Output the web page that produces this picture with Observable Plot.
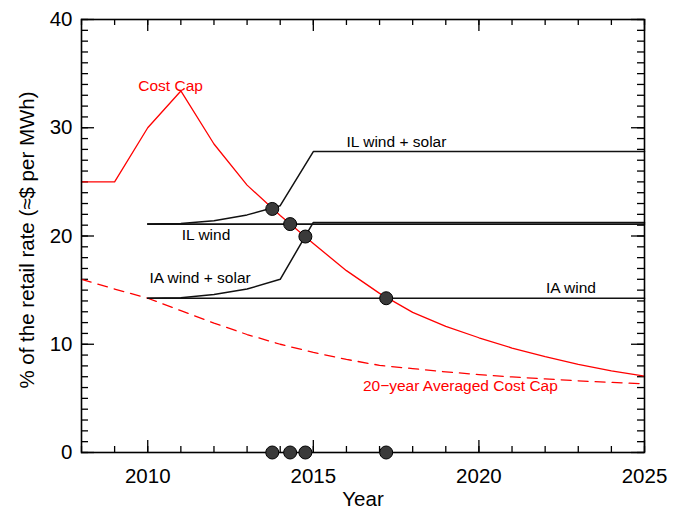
<!DOCTYPE html>
<html>
<head>
<meta charset="utf-8">
<script src="https://cdn.jsdelivr.net/npm/d3@7"></script>
<script src="https://cdn.jsdelivr.net/npm/@observablehq/plot@0.6"></script>
<style>
  html, body { margin: 0; padding: 0; background: #fff; }
  #chart svg { display: block; }
</style>
</head>
<body>
<div id="chart"></div>
<script>
// Cost cap as a share of the retail rate, with the IL / IA project costs
const years = [2008, 2009, 2010, 2011, 2012, 2013, 2014, 2015, 2016, 2017,
               2018, 2019, 2020, 2021, 2022, 2023, 2024, 2025];
const costCap = [25.0, 25.0, 30.0, 33.4, 28.5, 24.7, 21.9, 19.3, 16.8, 14.7,
                 12.95, 11.65, 10.6, 9.65, 8.85, 8.15, 7.55, 7.05];
const avgCostCap = [16.0, 15.1, 14.25, 13.1, 11.95, 10.9, 10.0, 9.25, 8.6, 8.05,
                    7.75, 7.45, 7.2, 6.98, 6.8, 6.62, 6.48, 6.35];

const ilWindSolarYears = [2010, 2011, 2012, 2013, 2014, 2015, 2025];
const ilWindSolar = [21.1, 21.15, 21.4, 21.95, 22.8, 27.8, 27.8];
const ilWindYears = [2010, 2025];
const ilWind = [21.1, 21.1];
const iaWindSolarYears = [2010, 2011, 2012, 2013, 2014, 2015, 2025];
const iaWindSolar = [14.25, 14.3, 14.6, 15.1, 16.0, 21.25, 21.25];
const iaWindYears = [2010, 2025];
const iaWind = [14.25, 14.25];

// Years where each project curve meets the cost cap
const crossYears = [2013.76, 2014.3, 2014.76, 2017.2];
const crossValues = [22.5, 21.1, 19.95, 14.25];

const xTickLabels = [2010, 2015, 2020, 2025];
const yTickLabels = [0, 10, 20, 30, 40];

const toPoints = (xs, ys) => xs.map((x, i) => ({x, y: ys[i]}));

const W = 680, H = 513;
const mL = 81, mR = 36, mT = 19, mB = 61;
const innerW = W - mL - mR, innerH = H - mT - mB;

const xMinor = d3.range(2008, 2026);
const yMinor = d3.range(0, 41);
const xMajor = xMinor.filter(d => d % 5 === 0);
const yMajor = yMinor.filter(d => d % 10 === 0);

const font = "'Liberation Sans', Arial, Helvetica, sans-serif";
const labelSize = 15.5;

const chart = Plot.plot({
  width: W,
  height: H,
  marginLeft: mL,
  marginRight: mR,
  marginTop: mT,
  marginBottom: mB,
  x: {domain: [2008, 2025]},
  y: {domain: [0, 40]},
  style: {fontFamily: font, fontSize: "20.5px", color: "#000", background: "#fff"},
  marks: [
    // inward ticks on all four sides
    Plot.tickX(xMinor, {x: d => d, insetTop: innerH - 6, stroke: "#000", strokeWidth: 1.3}),
    Plot.tickX(xMajor, {x: d => d, insetTop: innerH - 12, stroke: "#000", strokeWidth: 1.3}),
    Plot.tickX(xMinor, {x: d => d, insetBottom: innerH - 6, stroke: "#000", strokeWidth: 1.3}),
    Plot.tickX(xMajor, {x: d => d, insetBottom: innerH - 12, stroke: "#000", strokeWidth: 1.3}),
    Plot.tickY(yMinor, {y: d => d, insetRight: innerW - 7, stroke: "#000", strokeWidth: 1.3}),
    Plot.tickY(yMajor, {y: d => d, insetRight: innerW - 13, stroke: "#000", strokeWidth: 1.3}),
    Plot.tickY(yMinor, {y: d => d, insetLeft: innerW - 7, stroke: "#000", strokeWidth: 1.3}),
    Plot.tickY(yMajor, {y: d => d, insetLeft: innerW - 13, stroke: "#000", strokeWidth: 1.3}),

    Plot.axisX({ticks: xTickLabels, tickSize: 0, tickPadding: 16, tickFormat: d => String(d), label: null, fontSize: 20.5}),
    Plot.axisY({ticks: yTickLabels, tickSize: 0, tickPadding: 9, tickFormat: d => String(d), label: null, fontSize: 20.5}),

    // cost caps
    Plot.line(toPoints(years, avgCostCap), {x: "x", y: "y", stroke: "#ff0000", strokeWidth: 1.3, strokeDasharray: "10,7"}),
    Plot.line(toPoints(years, costCap), {x: "x", y: "y", stroke: "#ff0000", strokeWidth: 1.3}),

    // project cost curves
    Plot.line(toPoints(ilWindYears, ilWind), {x: "x", y: "y", stroke: "#111", strokeWidth: 1.6}),
    Plot.line(toPoints(ilWindSolarYears, ilWindSolar), {x: "x", y: "y", stroke: "#111", strokeWidth: 1.5}),
    Plot.line(toPoints(iaWindYears, iaWind), {x: "x", y: "y", stroke: "#111", strokeWidth: 1.6}),
    Plot.line(toPoints(iaWindSolarYears, iaWindSolar), {x: "x", y: "y", stroke: "#111", strokeWidth: 1.5}),

    Plot.frame({stroke: "#000", strokeWidth: 1.6}),

    // crossing points, on the curves and along the year axis
    Plot.dot(toPoints(crossYears, crossValues), {x: "x", y: "y", r: 6.5, fill: "#3a3a3a", stroke: "#000", strokeWidth: 1}),
    Plot.dot(crossYears, {x: d => d, y: 0, r: 6.5, fill: "#3a3a3a", stroke: "#000", strokeWidth: 1}),

    // series labels
    Plot.text(["Cost Cap"], {x: 2010.69, y: 33.9, fill: "#ff0000", fontSize: labelSize}),
    Plot.text(["IL wind + solar"], {x: 2017.51, y: 28.67, fill: "#000", fontSize: labelSize}),
    Plot.text(["IL wind"], {x: 2011.76, y: 20.05, fill: "#000", fontSize: labelSize}),
    Plot.text(["IA wind + solar"], {x: 2011.58, y: 16.14, fill: "#000", fontSize: labelSize}),
    Plot.text(["IA wind"], {x: 2022.78, y: 15.18, fill: "#000", fontSize: labelSize}),
    Plot.text(["20\u2212year Averaged Cost Cap"], {x: 2019.44, y: 6.1, fill: "#ff0000", fontSize: labelSize}),

    // axis titles
    Plot.text(["Year"], {frameAnchor: "bottom", dy: 47, lineAnchor: "middle", textAnchor: "middle", fill: "#000", fontSize: 20.5}),
    Plot.text(["% of the retail rate (\u2248$ per MWh)"], {frameAnchor: "left", dx: -54, dy: 4, rotate: -90, textAnchor: "middle", lineAnchor: "middle", fill: "#000", fontSize: 20.5})
  ]
});

document.getElementById("chart").appendChild(chart);
</script>
</body>
</html>
